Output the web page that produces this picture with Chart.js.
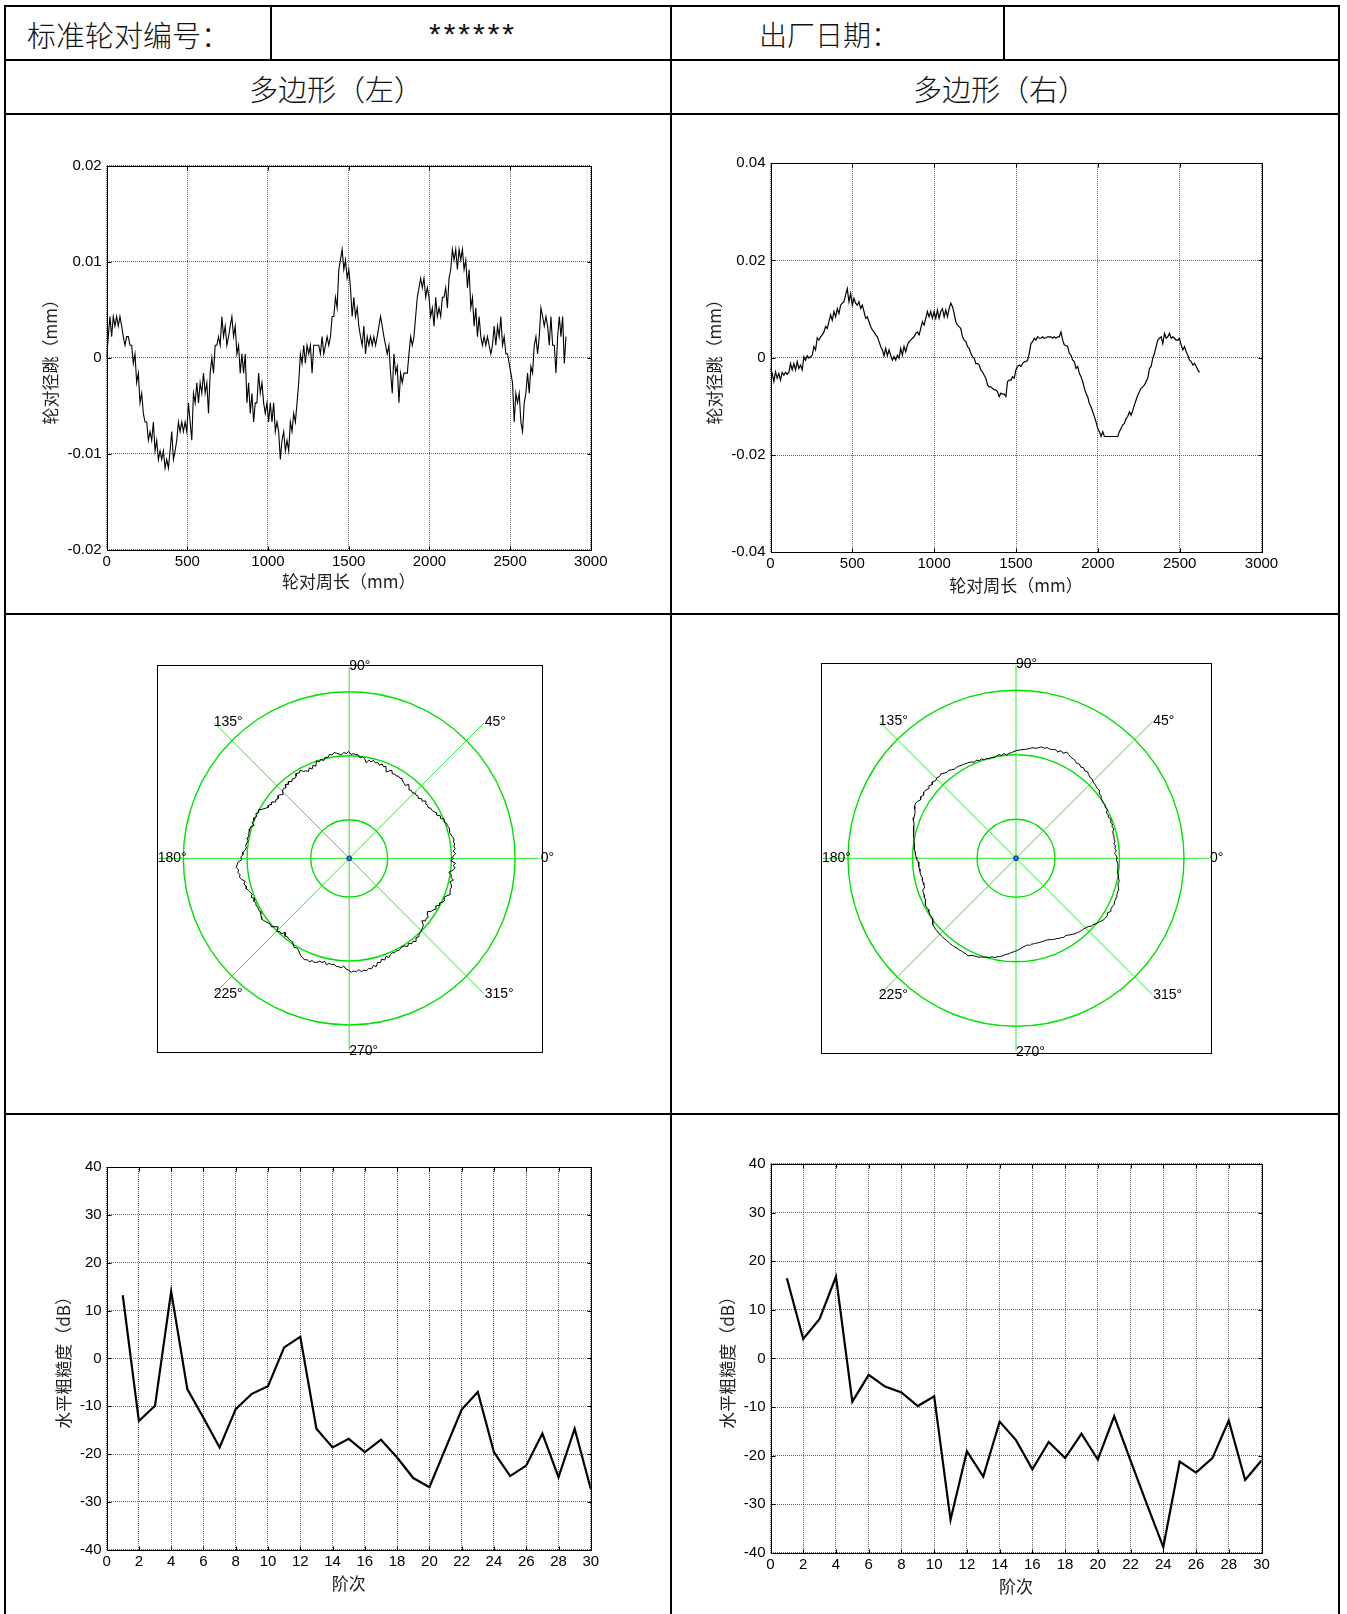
<!DOCTYPE html>
<html lang="zh-CN">
<head>
<meta charset="utf-8">
<title>多边形</title>
<script src="https://cdn.jsdelivr.net/npm/chart.js@4.4.0/dist/chart.umd.min.js"></script>
<style>
    html, body { margin: 0; padding: 0; background: #fff; }
    body { width: 1347px; height: 1614px; position: relative; overflow: hidden; font-family: "Noto Sans CJK SC", sans-serif; }
    .hline { position: absolute; height: 2px; background: #000; }
    .vline { position: absolute; width: 2px; background: #000; }
    .txt { position: absolute; white-space: nowrap; color: #111; line-height: 1; font-weight: 300; transform: translateY(-50%); }
    .txt.c { transform: translate(-50%, -50%); }
    canvas { position: absolute; }
</style>
</head>
<body>
<!-- table frame -->
<div class="hline" style="left:4px; width:1336px; top:5px"></div>
<div class="hline" style="left:4px; width:1336px; top:59px"></div>
<div class="hline" style="left:4px; width:1336px; top:113px"></div>
<div class="hline" style="left:4px; width:1336px; top:613px"></div>
<div class="hline" style="left:4px; width:1336px; top:1113px"></div>
<div class="vline" style="left:3.5px; top:5px; height:1609px"></div>
<div class="vline" style="left:1338px; top:5px; height:1609px"></div>
<div class="vline" style="left:670px; top:5px; height:1609px"></div>
<div class="vline" style="left:270px; top:5px; height:55px"></div>
<div class="vline" style="left:1002.5px; top:5px; height:55px"></div>

<div class="txt" style="left:27px; top:34px; font-size:29px">标准轮对编号：</div>
<div class="txt c" style="left:473px; top:34px; font-size:30px; letter-spacing:3px; font-family:'Liberation Sans'">******</div>
<div class="txt" style="left:759px; top:34px; font-size:28px">出厂日期：</div>
<div class="txt c" style="left:336px; top:88px; font-size:29px">多边形（左）</div>
<div class="txt c" style="left:1000px; top:88px; font-size:29px">多边形（右）</div>

<canvas id="runoutLeftChart" width="645" height="480" style="left:20px; top:125px"></canvas>
<canvas id="runoutRightChart" width="640" height="480" style="left:690px; top:125px"></canvas>
<canvas id="polarLeftChart" width="480" height="440" style="left:120px; top:640px"></canvas>
<canvas id="polarRightChart" width="480" height="440" style="left:785px; top:640px"></canvas>
<canvas id="orderLeftChart" width="645" height="485" style="left:20px; top:1125px"></canvas>
<canvas id="orderRightChart" width="640" height="485" style="left:690px; top:1125px"></canvas>

<script>
// Data: radial runout (mm) sampled along the wheel circumference
const sampleStepLeft = 10.35;   // mm between samples
const sampleStepRight = 10.2;

const runoutLeft = [
    0, 0.0022, 0.0043, 0.0022, 0.0043, 0.0033, 0.0043, 0.0033, 0.0043, 0.0033,
    0.0022, 0.0013, 0.0022, 0.0022, 0.0013, 0.0013, -0.0006, 0.0004, -0.0026, -0.0016,
    -0.0047, -0.0037, -0.0058, -0.0067, -0.0067, -0.0086, -0.0077, -0.0086, -0.0067, -0.0097,
    -0.0086, -0.0106, -0.0097, -0.0106, -0.0097, -0.0115, -0.0106, -0.0115, -0.0097, -0.0077,
    -0.0106, -0.0097, -0.0086, -0.0067, -0.0077, -0.0067, -0.0077, -0.0067, -0.0077, -0.0047,
    -0.0067, -0.0086, -0.0037, -0.0047, -0.0026, -0.0047, -0.0026, -0.0037, -0.0016, -0.0037,
    -0.0026, -0.0058, -0.0016, 0, -0.0016, 0.0013, 0.0013, 0.0022, 0.0013, 0.0043,
    0.0022, 0.0033, 0.0013, 0.0022, 0.0033, 0.0043, 0.0022, 0.0033, 0.0004, 0.0013,
    -0.0016, 0.0004, -0.0016, 0.0004, -0.0047, -0.0026, -0.0058, -0.0037, -0.0067, -0.0047,
    -0.0047, -0.0016, -0.0037, -0.0026, -0.0047, -0.0058, -0.0047, -0.0067, -0.0047, -0.0067,
    -0.0047, -0.0077, -0.0067, -0.0077, -0.0106, -0.0086, -0.0077, -0.0097, -0.0086, -0.0097,
    -0.0067, -0.0077, -0.0058, -0.0067, -0.0047, -0.0026, 0.0004, -0.0006, 0.0013, -0.0006,
    0.0013, 0.0004, 0.0013, -0.0016, 0.0013, 0.0013, 0.0013, 0.0013, 0.0004, 0.0022,
    0.0004, 0.0013, 0.0022, 0.0013, 0.0022, 0.0043, 0.0043, 0.0063, 0.0052, 0.0092,
    0.0102, 0.0113, 0.0092, 0.0102, 0.0083, 0.0092,
    0.0073, 0.0043, 0.0063, 0.0043, 0.0052, 0.0033, 0.0022, 0.0013, 0.0033, 0.0004,
    0.0022, 0.0013, 0.0022, 0.0013, 0.0022, 0.0013, 0.0022, 0.0033, 0.0043, 0.0033,
    0.0022, 0.0013, 0.0004, 0.0013, -0.0016, -0.0037, 0.0004, -0.0016, -0.0009, -0.0047,
    -0.0016, -0.0026, -0.0016, -0.0016, -0.0016, 0.0004, 0.0022, 0.0013, 0.0022, 0.0043,
    0.0063, 0.0073, 0.0083, 0.0073, 0.0083, 0.0063, 0.0073, 0.0063, 0.0043, 0.0052,
    0.0033, 0.0063, 0.0043, 0.0052, 0.0043, 0.0063, 0.0063, 0.0073, 0.0052, 0.0083,
    0.0092, 0.0113, 0.0102, 0.0113, 0.0092, 0.0113, 0.0102, 0.0113, 0.0092, 0.0102,
    0.0073, 0.0092, 0.0052, 0.0063, 0.0033, 0.0052, 0.0022, 0.0043, 0.0022, 0.0013,
    0.0022, 0.0013, 0.0022, 0.0013, 0.0004, 0.0013, 0.0033, 0.0013, 0.0033, 0.0022,
    0.0043, 0.0013, 0.0022, 0.0004, 0.0004, -0.0006, -0.0016, -0.0026, -0.0067, -0.0037,
    -0.0047, -0.0037, -0.0067, -0.0077, -0.0047, -0.0037, -0.0016, -0.0037, -0.0009, -0.0016,
    0.0013, 0.0022, 0.0004, 0.0022, 0.0052, 0.0043, 0.0033, 0.0043, 0.0033, 0.0013,
    0.0043, 0.0013, 0.0013, -0.0016, 0.0022, 0.0043, 0.0022, 0.0043, -0.0006, 0.0022
];

const runoutRight = [
    -0.0022, -0.0032, -0.0049, -0.0029, -0.0042, -0.0032, -0.0046, -0.0030, -0.0036, -0.0030,
    -0.0034, -0.0030, -0.0012, -0.0025, -0.0012, -0.0025, -0.0008, -0.0022, -0.0015, -0.0025,
    0.0002, -0.0005, 0.0004, -0.0001, 0.0002, 0.0005, 0.0023, 0.0016, 0.0041, 0.0036,
    0.0043, 0.0047, 0.0053, 0.0064, 0.0060, 0.0074, 0.0088, 0.0077, 0.0095, 0.0084,
    0.0101, 0.0091, 0.0108, 0.0112, 0.0115, 0.0129, 0.0142, 0.0115, 0.0132, 0.0108,
    0.0122, 0.0112, 0.0108, 0.0115, 0.0101, 0.0108, 0.0095, 0.0081, 0.0084, 0.0074,
    0.0064, 0.0057, 0.0053, 0.0047, 0.0043, 0.0033, 0.0023, 0.0016, 0.0004, 0.0019,
    0.0004, 0.0016, 0.0005, -0.0005, 0.0002, -0.0005, 0.0005, -0.0001, 0.0019, 0.0005,
    0.0023, 0.0012, 0.0026, 0.0033, 0.0036, 0.0040, 0.0043, 0.0050, 0.0053, 0.0047,
    0.0060, 0.0074, 0.0067, 0.0081, 0.0095, 0.0084, 0.0095, 0.0081, 0.0095, 0.0081,
    0.0098, 0.0081, 0.0095, 0.0101, 0.0084, 0.0098, 0.0084, 0.0101, 0.0112, 0.0105,
    0.0091, 0.0074, 0.0067, 0.0064, 0.0060, 0.0043, 0.0036, 0.0033, 0.0023, 0.0019,
    0.0009, 0.0002, -0.0001, -0.0012, -0.0012, -0.0015, -0.0025, -0.0029, -0.0036, -0.0042,
    -0.0056, -0.0060, -0.0060, -0.0063, -0.0066, -0.0066,
    -0.0070, -0.0080, -0.0073, -0.0075, -0.0075, -0.0080, -0.0049, -0.0046, -0.0046, -0.0039,
    -0.0042, -0.0025, -0.0018, -0.0015, -0.0018, -0.0012, -0.0008, -0.0008, -0.0005, 0.0009,
    0.0029, 0.0033, 0.0040, 0.0036, 0.0043, 0.0040, 0.0040, 0.0043, 0.0040, 0.0041,
    0.0043, 0.0043, 0.0043, 0.0040, 0.0043, 0.0040, 0.0043, 0.0043, 0.0053, 0.0036,
    0.0026, 0.0025, 0.0023, 0.0009, 0.0005, -0.0005, -0.0008, -0.0022, -0.0018, -0.0032,
    -0.0039, -0.0049, -0.0063, -0.0073, -0.0080, -0.0094, -0.0101, -0.0111, -0.0121, -0.0132,
    -0.0145, -0.0152, -0.0162, -0.0152, -0.0162, -0.0162, -0.0162, -0.0162, -0.0162, -0.0162,
    -0.0162, -0.0162, -0.0162, -0.0152, -0.0145, -0.0138, -0.0135, -0.0125, -0.0121, -0.0111,
    -0.0118, -0.0108, -0.0097, -0.0087, -0.0077, -0.0070, -0.0063, -0.0060, -0.0056, -0.0049,
    -0.0042, -0.0022, -0.0018, -0.0001, 0.0009, 0.0023, 0.0036, 0.0040, 0.0043, 0.0029,
    0.0050, 0.0040, 0.0043, 0.0050, 0.0040, 0.0043, 0.0040, 0.0036, 0.0036, 0.0040,
    0.0026, 0.0016, 0.0023, 0.0012, 0.0005, -0.0005, -0.0008, -0.0015, -0.0012, -0.0018,
    -0.0025, -0.0030
];

const runoutLeftTicks = [-0.02, -0.01, 0, 0.01, 0.02];
const runoutLeftTickLabels = ['-0.02', '-0.01', '0', '0.01', '0.02'];
const runoutRightTicks = [-0.04, -0.02, 0, 0.02, 0.04];
const runoutRightTickLabels = ['-0.04', '-0.02', '0', '0.02', '0.04'];
const circumferenceTicks = [0, 500, 1000, 1500, 2000, 2500, 3000];
const circumferenceTickLabels = ['0', '500', '1000', '1500', '2000', '2500', '3000'];

// Data: polar view (runout wrapped round the wheel, offset onto a base radius)
const polarBaseRadius = 0.1035;
const polarRings = [0.039, 0.1035, 0.168];
const polarLimit = 0.195;
const polarAngles = [0, 45, 90, 135, 180, 225, 270, 315];
const polarAngleLabels = ['0°', '45°', '90°', '135°', '180°', '225°', '270°', '315°'];

// Data: roughness level by order (dB)
const orders = [1, 2, 3, 4, 5, 6, 7, 8, 9, 10, 11, 12, 13, 14, 15, 16, 17, 18, 19, 20, 21, 22, 23, 24, 25, 26, 27, 28, 29, 30];
const roughnessLeft = [13.2, -13.1, -9.9, 14.0, -6.4, -12.4, -18.6, -10.6, -7.4, -5.8,
    2.3, 4.5, -14.7, -18.6, -16.8, -19.6, -17.0, -20.7, -25.0, -26.9,
    -18.8, -10.7, -7.0, -19.6, -24.6, -22.4, -15.7, -24.8, -14.7, -27.3];
const roughnessRight = [16.5, 4.0, 8.1, 16.8, -8.9, -3.4, -5.8, -7.0, -9.8, -7.8,
    -33.2, -19.1, -24.3, -13.0, -16.8, -22.8, -17.2, -20.5, -15.5, -20.8,
    -11.9, -21.0, -30.0, -38.8, -21.2, -23.5, -20.5, -12.8, -25.0, -21.0];
const orderTicks = [0, 2, 4, 6, 8, 10, 12, 14, 16, 18, 20, 22, 24, 26, 28, 30];
const orderTickLabels = orderTicks.map(String);
const roughnessTicks = [-40, -30, -20, -10, 0, 10, 20, 30, 40];
const roughnessTickLabels = roughnessTicks.map(String);

// Styling
const TICK_FONT = { family: "'Liberation Sans', Arial, sans-serif", size: 15 };
const TITLE_FONT = { family: "'Noto Sans CJK SC', sans-serif", size: 17 };
const TITLE_LH = TITLE_FONT.size * 1.2;
const GRID_COLOR = 'rgba(0, 0, 0, 0.6)';
const TICK_LEN = 4;

Chart.defaults.font.family = TICK_FONT.family;
Chart.defaults.color = '#000';

// Box + inward ticks on all four sides, like a MATLAB axes
const boxPlugin = {
    id: 'matlabBox',
    afterDatasetsDraw(chart) {
        const { ctx, chartArea: a, scales: { x, y } } = chart;
        const l = Math.round(a.left) + 0.5, r = Math.round(a.right) + 0.5;
        const t = Math.round(a.top) + 0.5, b = Math.round(a.bottom) + 0.5;
        ctx.save();
        ctx.strokeStyle = '#000';
        ctx.lineWidth = 1;
        ctx.beginPath();
        x.ticks.forEach(tk => {
            const px = Math.round(x.getPixelForValue(tk.value)) + 0.5;
            ctx.moveTo(px, b); ctx.lineTo(px, b - TICK_LEN);
            ctx.moveTo(px, t); ctx.lineTo(px, t + TICK_LEN);
        });
        y.ticks.forEach(tk => {
            const py = Math.round(y.getPixelForValue(tk.value)) + 0.5;
            ctx.moveTo(l, py); ctx.lineTo(l + TICK_LEN, py);
            ctx.moveTo(r, py); ctx.lineTo(r - TICK_LEN, py);
        });
        ctx.stroke();
        ctx.strokeRect(l, t, r - l, b - t);
        ctx.restore();
    }
};

const makeAxis = (min, max, ticks, labels, title, fixSize, titlePad, horizontal) => ({
    type: 'linear',
    min, max,
    afterBuildTicks: scale => { scale.ticks = ticks.map(v => ({ value: v })); },
    afterFit: scale => {
        if (horizontal) scale.height = fixSize; else scale.width = fixSize;
    },
    ticks: {
        font: TICK_FONT,
        color: '#000',
        padding: horizontal ? 3 : 5,
        autoSkip: false,
        maxRotation: 0,
        callback: (value, index) => labels[index]
    },
    grid: { color: GRID_COLOR, lineWidth: 1, drawTicks: false },
    border: { display: false, dash: [1, 1] },
    title: {
        display: true,
        text: title,
        font: TITLE_FONT,
        color: '#222',
        padding: horizontal ? { top: 0, bottom: titlePad } : { top: titlePad, bottom: 0 }
    }
});

// geo: canvas [left, top, width, height] and plot [left, top, right, bottom] in page pixels
const makeCartesianChart = (id, geo, points, lineWidth, xAxisDef, yAxisDef) => {
    const [cl, ct, cw, ch] = geo.canvas;
    const [pl, pt, pr, pb] = geo.plot;
    const yWidth = pl - cl;
    const xHeight = ct + ch - pb;
    const yTitlePad = geo.yTitleX - cl - TITLE_LH / 2;
    const xTitlePad = ct + ch - TITLE_LH / 2 - geo.xTitleY;

    return new Chart(document.getElementById(id), {
        type: 'line',
        data: {
            datasets: [{
                data: points,
                borderColor: '#000',
                borderWidth: lineWidth,
                pointRadius: 0,
                tension: 0,
                fill: false
            }]
        },
        options: {
            responsive: false,
            animation: false,
            layout: { padding: { left: 0, top: pt - ct, right: cl + cw - pr, bottom: 0 } },
            plugins: { legend: { display: false }, tooltip: { enabled: false } },
            scales: {
                x: makeAxis(...xAxisDef, xHeight, xTitlePad, true),
                y: makeAxis(...yAxisDef, yWidth, yTitlePad, false)
            }
        },
        plugins: [boxPlugin]
    });
};

// Polar grid: rings, spokes, angle labels, centre marker
const polarPlugin = {
    id: 'polarGrid',
    beforeDatasetsDraw(chart) {
        const { ctx, scales: { x, y } } = chart;
        const cx = x.getPixelForValue(0), cy = y.getPixelForValue(0);
        ctx.save();
        ctx.strokeStyle = 'rgb(0, 225, 0)';
        ctx.lineWidth = 1.4;
        polarRings.forEach(r => {
            ctx.beginPath();
            ctx.ellipse(cx, cy, x.getPixelForValue(r) - cx, cy - y.getPixelForValue(r), 0, 0, Math.PI * 2);
            ctx.stroke();
        });
        ctx.strokeStyle = 'rgb(40, 235, 40)';
        ctx.lineWidth = 1;
        const spoke = polarLimit * 0.99;
        polarAngles.slice(0, 4).forEach(deg => {
            const a = deg * Math.PI / 180;
            ctx.beginPath();
            ctx.moveTo(x.getPixelForValue(spoke * Math.cos(a)), y.getPixelForValue(spoke * Math.sin(a)));
            ctx.lineTo(x.getPixelForValue(-spoke * Math.cos(a)), y.getPixelForValue(-spoke * Math.sin(a)));
            ctx.stroke();
        });
        ctx.restore();
    },
    afterDatasetsDraw(chart) {
        const { ctx, chartArea: a, scales: { x, y } } = chart;
        const cx = x.getPixelForValue(0), cy = y.getPixelForValue(0);
        ctx.save();
        ctx.strokeStyle = '#000';
        ctx.lineWidth = 1;
        ctx.strokeRect(Math.round(a.left) + 0.5, Math.round(a.top) + 0.5, Math.round(a.width), Math.round(a.height));

        ctx.fillStyle = '#000';
        ctx.font = "14px 'Liberation Sans', Arial, sans-serif";
        ctx.textAlign = 'left';
        ctx.textBaseline = 'middle';
        const lr = polarLimit * 0.995;
        polarAngles.forEach((deg, i) => {
            const ang = deg * Math.PI / 180;
            ctx.fillText(polarAngleLabels[i], x.getPixelForValue(lr * Math.cos(ang)), y.getPixelForValue(lr * Math.sin(ang)));
        });

        ctx.beginPath();
        ctx.arc(cx, cy, 2.5, 0, Math.PI * 2);
        ctx.fillStyle = '#2f6fd6';
        ctx.fill();
        ctx.strokeStyle = '#1040a0';
        ctx.stroke();
        ctx.restore();
    }
};

const makePolarChart = (id, geo, runout) => {
    const [cl, ct, cw, ch] = geo.canvas;
    const [bl, bt, br, bb] = geo.box;
    const last = runout.length - 1;
    const points = runout.map((v, i) => {
        const theta = 2 * Math.PI * i / last;
        const rho = polarBaseRadius + v;
        return { x: rho * Math.cos(theta), y: rho * Math.sin(theta) };
    });
    return new Chart(document.getElementById(id), {
        type: 'scatter',
        data: {
            datasets: [{
                data: points,
                showLine: true,
                borderColor: '#000',
                borderWidth: 1,
                pointRadius: 0,
                fill: false
            }]
        },
        options: {
            responsive: false,
            animation: false,
            layout: { padding: { left: bl - cl, top: bt - ct, right: cl + cw - br, bottom: ct + ch - bb } },
            plugins: { legend: { display: false }, tooltip: { enabled: false } },
            scales: {
                x: { type: 'linear', min: -polarLimit, max: polarLimit, display: false },
                y: { type: 'linear', min: -polarLimit, max: polarLimit, display: false }
            }
        },
        plugins: [polarPlugin]
    });
};

// Build charts
const toPoints = (values, step) => values.map((v, i) => ({ x: i * step, y: v }));
const toOrderPoints = values => values.map((v, i) => ({ x: orders[i], y: v }));

makeCartesianChart('runoutLeftChart',
    { canvas: [20, 125, 645, 480], plot: [106.6, 165.9, 590.8, 549.6], yTitleX: 50.5, xTitleY: 581.5 },
    toPoints(runoutLeft, sampleStepLeft), 1.1,
    [0, 3000, circumferenceTicks, circumferenceTickLabels, '轮对周长（mm）'],
    [-0.02, 0.02, runoutLeftTicks, runoutLeftTickLabels, '轮对径跳（mm）']);

makeCartesianChart('runoutRightChart',
    { canvas: [690, 125, 640, 480], plot: [770.5, 163.1, 1261.5, 552.3], yTitleX: 714.6, xTitleY: 585.6 },
    toPoints(runoutRight, sampleStepRight), 1.2,
    [0, 3000, circumferenceTicks, circumferenceTickLabels, '轮对周长（mm）'],
    [-0.04, 0.04, runoutRightTicks, runoutRightTickLabels, '轮对径跳（mm）']);

makePolarChart('polarLeftChart', { canvas: [120, 640, 480, 440], box: [156.7, 665, 541.7, 1051.7] }, runoutLeft);
makePolarChart('polarRightChart', { canvas: [785, 640, 480, 440], box: [821, 663.3, 1211, 1053.3] }, runoutRight);

makeCartesianChart('orderLeftChart',
    { canvas: [20, 1125, 645, 485], plot: [106.6, 1167, 590.8, 1549.8], yTitleX: 64, xTitleY: 1583.8 },
    toOrderPoints(roughnessLeft), 2.2,
    [0, 30, orderTicks, orderTickLabels, '阶次'],
    [-40, 40, roughnessTicks, roughnessTickLabels, '水平粗糙度（dB）']);

makeCartesianChart('orderRightChart',
    { canvas: [690, 1125, 640, 485], plot: [770.5, 1163.9, 1261.5, 1552.9], yTitleX: 728, xTitleY: 1587 },
    toOrderPoints(roughnessRight), 2.2,
    [0, 30, orderTicks, orderTickLabels, '阶次'],
    [-40, 40, roughnessTicks, roughnessTickLabels, '水平粗糙度（dB）']);
</script>
</body>
</html>
